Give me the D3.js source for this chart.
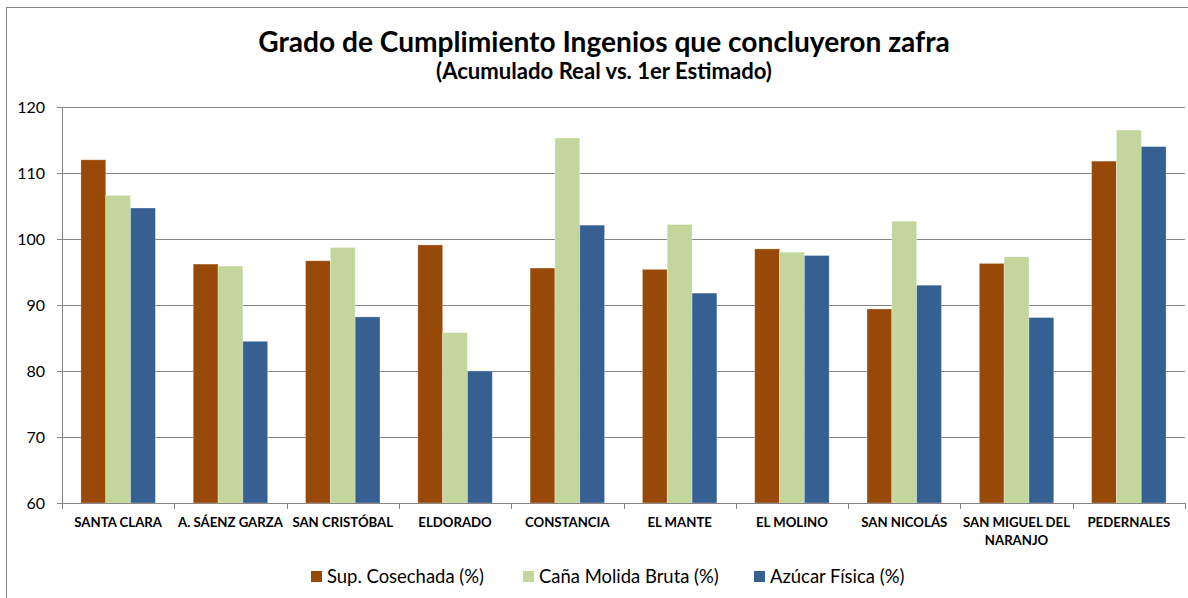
<!DOCTYPE html>
<html>
<head>
<meta charset="utf-8">
<script src="https://cdn.jsdelivr.net/npm/d3@7"></script>
<style>
  html, body { margin: 0; padding: 0; background: #fff; }
  svg { display: block; }
  text { font-family: Lato, "Open Sans", sans-serif; fill: #000; }
</style>
</head>
<body>
<script>
// ---- data ----
const categories = ["SANTA CLARA", "A. SÁENZ GARZA", "SAN CRISTÓBAL", "ELDORADO", "CONSTANCIA",
                    "EL MANTE", "EL MOLINO", "SAN NICOLÁS", "SAN MIGUEL DEL NARANJO", "PEDERNALES"];
const seriesNames = ["Sup. Cosechada (%)", "Caña Molida Bruta (%)", "Azúcar Física (%)"];
const supCosechada   = [112.0, 96.2, 96.7, 99.1, 95.6, 95.4, 98.5, 89.4, 96.3, 111.8];
const canaMolida     = [106.6, 95.9, 98.7, 85.8, 115.3, 102.2, 98.0, 102.7, 97.3, 116.5];
const azucarFisica   = [104.7, 84.5, 88.2, 80.0, 102.1, 91.8, 97.5, 93.0, 88.1, 114.0];
const yTicks = [60, 70, 80, 90, 100, 110, 120];
const colors = ["#984807", "#C3D69B", "#376092"];
const title = "Grado de Cumplimiento Ingenios que concluyeron zafra";
const subtitle = "(Acumulado Real vs. 1er Estimado)";

const W = 1188, H = 598;
const svg = d3.select("body").append("svg").attr("width", W).attr("height", H);

function fitText(sel, target) {
  const w = sel.node().getComputedTextLength();
  const fs = parseFloat(sel.attr("font-size"));
  const nfs = fs * target / w;
  sel.attr("font-size", nfs.toFixed(2));
  return nfs;
}

// outer frame
svg.append("rect").attr("x", 6.5).attr("y", 7.5).attr("width", W + 10).attr("height", H + 10)
  .attr("fill", "none").attr("stroke", "#868686").attr("stroke-width", 1);

const plot = { left: 62, right: 1185, top: 107, bottom: 503 };

const y = d3.scaleLinear().domain([60, 120]).range([plot.bottom, plot.top]);
const x0 = d3.scaleBand().domain(categories).range([plot.left, plot.right])
  .paddingInner(0.337).paddingOuter(0.337 / 2);
const x1 = d3.scaleBand().domain(d3.range(3)).range([0, x0.bandwidth()]).padding(0);

const rows = categories.map((c, i) => ({ cat: c, vals: [supCosechada[i], canaMolida[i], azucarFisica[i]] }));

// gridlines
svg.append("g").selectAll("line").data(yTicks).join("line")
  .attr("x1", plot.left).attr("x2", plot.right)
  .attr("y1", d => Math.round(y(d)) + 0.5).attr("y2", d => Math.round(y(d)) + 0.5)
  .attr("stroke", "#868686").attr("stroke-width", 1);

// bars
const g = svg.append("g");
rows.forEach(r => {
  g.selectAll(null).data(r.vals).join("rect")
    .attr("x", (d, j) => x0(r.cat) + x1(j))
    .attr("width", x1.bandwidth())
    .attr("y", d => y(d))
    .attr("height", d => y(60) - y(d))
    .attr("fill", (d, j) => colors[j])
    .attr("stroke", "rgba(255,255,255,0.35)").attr("stroke-width", 0.8);
});

// y axis line and ticks
svg.append("path").attr("fill", "none").attr("stroke", "#868686")
  .attr("d", `M${plot.left + 0.5},${plot.top}V${plot.bottom}`);
svg.append("g").selectAll("line").data(yTicks).join("line")
  .attr("x1", plot.left - 5).attr("x2", plot.left)
  .attr("y1", d => Math.round(y(d)) + 0.5).attr("y2", d => Math.round(y(d)) + 0.5)
  .attr("stroke", "#868686");
// y tick labels
svg.append("g").selectAll("text").data(yTicks).join("text")
  .attr("x", 45).attr("y", d => y(d) + 6)
  .attr("text-anchor", "end")
  .style("font-size", "16px")
  .text(d => d);

// x axis line and ticks at category boundaries
const bounds = d3.range(categories.length + 1).map(i => plot.left + i * (plot.right - plot.left) / categories.length);
svg.append("line").attr("x1", plot.left).attr("x2", plot.right)
  .attr("y1", plot.bottom + 0.5).attr("y2", plot.bottom + 0.5).attr("stroke", "#868686");
svg.append("g").selectAll("line").data(bounds).join("line")
  .attr("x1", d => Math.round(d) + 0.5).attr("x2", d => Math.round(d) + 0.5)
  .attr("y1", plot.bottom).attr("y2", plot.bottom + 6).attr("stroke", "#868686");

// x labels
const lab = svg.append("g").selectAll("text").data(categories).join("text")
  .attr("x", d => x0(d) + x0.bandwidth() / 2)
  .attr("y", 527)
  .attr("text-anchor", "middle")
  .attr("font-size", 13.2).attr("font-weight", "bold");
lab.each(function(d) {
  const t = d3.select(this);
  const lines = d === "SAN MIGUEL DEL NARANJO" ? ["SAN MIGUEL DEL", "NARANJO"] : [d];
  lines.forEach((l, i) => t.append("tspan").attr("x", x0(d) + x0.bandwidth() / 2).attr("dy", i ? 18 : 0).text(l));
});

// titles
const t1 = svg.append("text").attr("x", 604).attr("y", 52).attr("text-anchor", "middle")
  .attr("font-size", 26).attr("font-weight", "bold").text(title);
fitText(t1, 692);
const t2 = svg.append("text").attr("x", 604).attr("y", 79).attr("text-anchor", "middle")
  .attr("font-size", 18).attr("font-weight", "bold").text(subtitle);
fitText(t2, 336);

// legend
const legendX = [311, 523, 754];
const legendW = [157, 180, 138];
const lg = svg.append("g").selectAll("g").data(seriesNames).join("g")
  .attr("transform", (d, i) => `translate(${legendX[i]},571)`);
lg.append("rect").attr("width", 11).attr("height", 11).attr("fill", (d, i) => colors[i]);
const lt = lg.append("text").attr("x", 16).attr("y", 11.5).attr("font-size", 16).text(d => d);
const lfs = fitText(lt.filter((d, i) => i === 1), legendW[1]);
lt.attr("font-size", lfs.toFixed(2));
</script>
</body>
</html>
